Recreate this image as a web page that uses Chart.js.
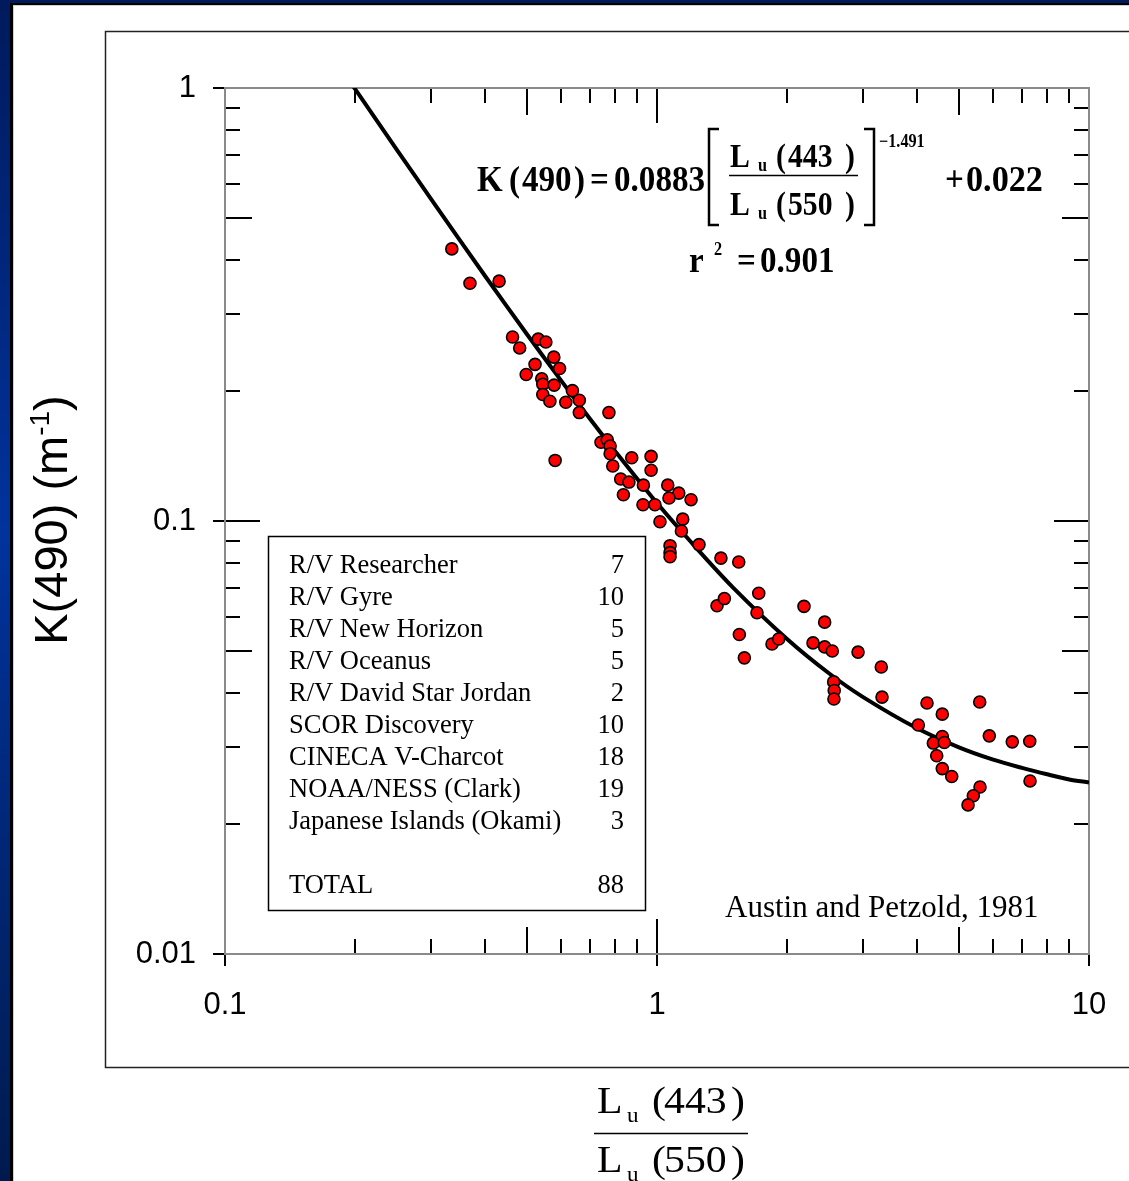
<!DOCTYPE html>
<html>
<head>
<title>K(490) vs Lu(443)/Lu(550)</title>
<script src="https://cdn.jsdelivr.net/npm/chart.js"></script>
<style>
  html, body { margin: 0; padding: 0; background: #001f6b; }
  #wrap { width: 1129px; height: 1181px; }
</style>
</head>
<body>
<div id="wrap"><canvas id="kChart" width="1129" height="1181"></canvas></div>
<script>
// measured stations: Lu(443)/Lu(550) ratio and K(490)
const ratioX = [0.335, 0.369, 0.431, 0.463, 0.531, 0.553, 0.481, 0.577, 0.522, 0.595,
                0.498, 0.541, 0.544, 0.578, 0.544, 0.637, 0.565, 0.661, 0.615, 0.774,
                0.661, 0.742, 0.767, 0.779, 0.779, 0.581, 0.790, 0.874, 0.969, 0.969,
                0.824, 0.861, 0.930, 0.836, 1.059, 1.123, 1.066, 1.199, 0.928, 0.989,
                1.147, 1.016, 1.139, 1.251, 1.072, 1.072, 1.072, 1.406, 1.546, 1.377,
                1.432, 1.720, 1.704, 1.551, 1.593, 1.846, 1.913, 2.189, 2.297, 2.444,
                2.444, 2.545, 2.920, 3.305, 2.564, 2.572, 2.568, 3.318, 4.217, 4.575,
                5.585, 4.026, 4.575, 4.362, 4.624, 5.878, 6.643, 7.292, 4.441, 4.575,
                4.811, 5.594, 5.398, 5.248, 7.303];
const k490 = [0.425, 0.354, 0.358, 0.266, 0.263, 0.259, 0.251, 0.239, 0.230, 0.225,
              0.218, 0.213, 0.207, 0.206, 0.196, 0.200, 0.189, 0.190, 0.188, 0.178,
              0.178, 0.152, 0.154, 0.149, 0.143, 0.138, 0.134, 0.140, 0.141, 0.131,
              0.125, 0.123, 0.121, 0.115, 0.121, 0.116, 0.113, 0.112, 0.109, 0.109,
              0.101, 0.0996, 0.0948, 0.0882, 0.0877, 0.0845, 0.0827, 0.0821, 0.0804, 0.0637,
              0.0662, 0.0681, 0.0614, 0.0547, 0.0483, 0.0520, 0.0534, 0.0635, 0.0523, 0.0584,
              0.0512, 0.0501, 0.0498, 0.0460, 0.0425, 0.0406, 0.0388, 0.0392, 0.0380, 0.0358,
              0.0382, 0.0338, 0.0318, 0.0307, 0.0308, 0.0319, 0.0309, 0.0310, 0.0287, 0.0268,
              0.0257, 0.0243, 0.0232, 0.0221, 0.0251];

// fitted curve
const curveX = [0.19, 0.2, 0.25, 0.3, 0.4, 0.5, 0.6, 0.7, 0.8, 1, 1.2, 1.5, 2, 2.5, 3, 4, 5, 6, 7, 8, 9, 10];
const curveK = [1.073, 0.995, 0.720, 0.554, 0.368, 0.270, 0.211, 0.172, 0.145, 0.110, 0.0893, 0.0702,
                0.0534, 0.0445, 0.0392, 0.0332, 0.0300, 0.0281, 0.0269, 0.0260, 0.0253, 0.0249];

const xTickValues = [0.1, 1, 10];
const yTickValues = [0.01, 0.1, 1];

const cruises = ["R/V Researcher", "R/V Gyre", "R/V New Horizon", "R/V Oceanus",
                 "R/V David Star Jordan", "SCOR Discovery", "CINECA V-Charcot",
                 "NOAA/NESS (Clark)", "Japanese Islands (Okami)"];
const cruiseCounts = [7, 10, 5, 5, 2, 10, 18, 19, 3];
const totalCount = 88;

const SERIF = "'Liberation Serif', 'Times New Roman', serif";
const SANS = "'Liberation Sans', Arial, sans-serif";

function put(ctx, s, x, y, font, align) {
    ctx.font = font;
    ctx.textAlign = align || "left";
    ctx.fillText(s, x, y);
}

// text squeezed or stretched horizontally
function putS(ctx, s, x, y, font, sx) {
    ctx.save();
    ctx.translate(x, y);
    ctx.scale(sx, 1);
    ctx.font = font;
    ctx.textAlign = "left";
    ctx.fillText(s, 0, 0);
    ctx.restore();
}

const decor = {
    id: "decor",
    beforeDraw(chart) {
        const ctx = chart.ctx, W = chart.width, H = chart.height;
        ctx.save();
        const g = ctx.createLinearGradient(0, 0, 0, H);
        g.addColorStop(0, "#001a5c");
        g.addColorStop(0.45, "#00339c");
        g.addColorStop(1, "#001a4e");
        ctx.fillStyle = g;
        ctx.fillRect(0, 0, W, H);
        ctx.fillStyle = "#000";
        ctx.fillRect(10, 3, W, H);
        ctx.fillStyle = "#d0d0d0";
        ctx.fillRect(13, 5, W, H);
        ctx.fillStyle = "#fff";
        ctx.fillRect(14, 6, W, H);
        // outer frame, open on the right
        ctx.strokeStyle = "#222";
        ctx.lineWidth = 1.5;
        ctx.beginPath();
        ctx.moveTo(W, 31.5);
        ctx.lineTo(105.5, 31.5);
        ctx.lineTo(105.5, 1067.5);
        ctx.lineTo(W, 1067.5);
        ctx.stroke();
        ctx.restore();
    },
    beforeDatasetsDraw(chart) {
        const ctx = chart.ctx, a = chart.chartArea, x = chart.scales.x, y = chart.scales.y;
        const len = m => (m === 1 ? 35 : (m === 5 ? 27 : 15));
        ctx.save();
        ctx.strokeStyle = "#000";
        ctx.lineWidth = 2;
        ctx.beginPath();
        [0.1, 1].forEach(dec => {
            for (let m = 1; m <= 9; m++) {
                const px = Math.round(x.getPixelForValue(dec * m));
                const l = len(m);
                ctx.moveTo(px, a.bottom + (m === 1 ? 12 : 0));
                ctx.lineTo(px, a.bottom - l);
                ctx.moveTo(px, a.top);
                ctx.lineTo(px, a.top + l);
            }
        });
        [0.01, 0.1].forEach(dec => {
            for (let m = 1; m <= 9; m++) {
                const py = Math.round(y.getPixelForValue(dec * m));
                const l = len(m);
                ctx.moveTo(a.left - (m === 1 ? 12 : 0), py);
                ctx.lineTo(a.left + l, py);
                ctx.moveTo(a.right, py);
                ctx.lineTo(a.right - l, py);
            }
        });
        // last majors
        const px10 = Math.round(x.getPixelForValue(10));
        ctx.moveTo(px10, a.bottom + 12);
        ctx.lineTo(px10, a.bottom);
        const py1 = Math.round(y.getPixelForValue(1));
        ctx.moveTo(a.left - 12, py1);
        ctx.lineTo(a.left, py1);
        ctx.stroke();
        ctx.strokeStyle = "#8a8a8a";
        ctx.lineWidth = 2;
        ctx.strokeRect(a.left, a.top, a.right - a.left, a.bottom - a.top);
        ctx.restore();
    },
    afterDraw(chart) {
        const ctx = chart.ctx;
        ctx.save();
        ctx.fillStyle = "#000";
        ctx.strokeStyle = "#000";
        ctx.textBaseline = "alphabetic";

        // equation
        const B = "bold 36px " + SERIF, Bs = "bold 18px " + SERIF, Bf = "bold 33px " + SERIF;
        const q = 0.92;
        putS(ctx, "K", 477, 191, B, q);
        putS(ctx, "(", 509, 191, B, q);
        putS(ctx, "490", 522, 191, B, q);
        putS(ctx, ")", 574, 191, B, q);
        putS(ctx, "=", 590, 191, B, q);
        putS(ctx, "0.0883", 614, 191, B, q);
        ctx.lineWidth = 2.5;
        ctx.beginPath();
        ctx.moveTo(719, 129); ctx.lineTo(709, 129); ctx.lineTo(709, 225); ctx.lineTo(719, 225);
        ctx.moveTo(864, 129); ctx.lineTo(874, 129); ctx.lineTo(874, 225); ctx.lineTo(864, 225);
        ctx.stroke();
        putS(ctx, "L", 730, 167, Bf, 0.9);
        putS(ctx, "u", 758, 171, Bs, 0.9);
        putS(ctx, "(", 776, 167, Bf, 0.9);
        putS(ctx, "443", 788, 167, Bf, 0.9);
        putS(ctx, ")", 845, 167, Bf, 0.9);
        ctx.lineWidth = 1.5;
        ctx.beginPath();
        ctx.moveTo(729, 175.5); ctx.lineTo(858, 175.5);
        ctx.stroke();
        putS(ctx, "L", 730, 215, Bf, 0.9);
        putS(ctx, "u", 758, 219, Bs, 0.9);
        putS(ctx, "(", 776, 215, Bf, 0.9);
        putS(ctx, "550", 788, 215, Bf, 0.9);
        putS(ctx, ")", 845, 215, Bf, 0.9);
        putS(ctx, "\u22121.491", 879, 147, Bs, 0.9);
        putS(ctx, "+", 945, 191, B, q);
        putS(ctx, "0.022", 966, 191, B, 0.95);
        putS(ctx, "r", 689, 272, B, q);
        putS(ctx, "2", 714, 255, Bs, 0.9);
        putS(ctx, "=", 737, 272, B, q);
        putS(ctx, "0.901", 760, 272, B, q);

        // station table
        ctx.lineWidth = 1.5;
        ctx.strokeRect(268.5, 536.5, 377, 374);
        const F = "26.5px " + SERIF;
        cruises.forEach((c, i) => {
            const by = 573 + i * 32;
            put(ctx, c, 289, by, F);
            put(ctx, String(cruiseCounts[i]), 624, by, F, "right");
        });
        put(ctx, "TOTAL", 289, 893, F);
        put(ctx, String(totalCount), 624, 893, F, "right");

        put(ctx, "Austin and Petzold, 1981", 725, 917, "31px " + SERIF);

        // y axis title
        ctx.save();
        ctx.translate(67, 520);
        ctx.rotate(-Math.PI / 2);
        const big = "47px " + SANS, sup = "28px " + SANS;
        ctx.font = big;
        const w1 = ctx.measureText("K(490) (m").width, w3 = ctx.measureText(")").width;
        ctx.font = sup;
        const w2 = ctx.measureText("-1").width;
        let sx = -(w1 + w2 + w3) / 2;
        put(ctx, "K(490) (m", sx, 0, big);
        put(ctx, "-1", sx + w1, -18, sup);
        put(ctx, ")", sx + w1 + w2, 0, big);
        ctx.restore();

        // x axis title
        const R = "38px " + SERIF, Rs = "21px " + SERIF, w = 1.1;
        putS(ctx, "L", 597, 1113, R, w);
        putS(ctx, "u", 627, 1122, Rs, w);
        putS(ctx, "(", 652, 1113, R, w);
        putS(ctx, "443", 664, 1113, R, w);
        putS(ctx, ")", 731, 1113, R, w);
        ctx.lineWidth = 1.5;
        ctx.beginPath();
        ctx.moveTo(594, 1133.5); ctx.lineTo(748, 1133.5);
        ctx.stroke();
        putS(ctx, "L", 597, 1172, R, w);
        putS(ctx, "u", 627, 1181, Rs, w);
        putS(ctx, "(", 652, 1172, R, w);
        putS(ctx, "550", 664, 1172, R, w);
        putS(ctx, ")", 731, 1172, R, w);
        ctx.restore();
    }
};

const points = ratioX.map((v, i) => ({ x: v, y: k490[i] }));
const curve = curveX.map((v, i) => ({ x: v, y: curveK[i] }));

const ctx = document.getElementById("kChart").getContext("2d");
const chart = new Chart(ctx, {
    type: "scatter",
    data: {
        datasets: [{
            label: "Stations",
            data: points,
            backgroundColor: "#ff0000",
            borderColor: "#000",
            borderWidth: 1.6,
            pointRadius: 6,
            pointHoverRadius: 6
        }, {
            type: "line",
            label: "Fit",
            data: curve,
            borderColor: "#000",
            borderWidth: 4,
            pointRadius: 0,
            tension: 0.3,
            fill: false
        }]
    },
    options: {
        responsive: false,
        animation: false,
        events: [],
        layout: { padding: { left: 0, top: 88, right: 40, bottom: 0 } },
        plugins: { legend: { display: false }, tooltip: { enabled: false } },
        scales: {
            x: {
                type: "logarithmic",
                min: 0.1,
                max: 10,
                afterBuildTicks: s => { s.ticks = xTickValues.map(v => ({ value: v })); },
                afterFit: s => { s.height = 227; s.paddingLeft = 0; s.paddingRight = 0; },
                ticks: {
                    callback: v => String(v),
                    font: { family: SANS, size: 31 },
                    color: "#000",
                    padding: 33,
                    maxRotation: 0,
                    autoSkip: false
                },
                grid: { display: false, drawTicks: false },
                border: { display: false }
            },
            y: {
                type: "logarithmic",
                min: 0.01,
                max: 1,
                afterBuildTicks: s => { s.ticks = yTickValues.map(v => ({ value: v })); },
                afterFit: s => { s.width = 225; s.paddingTop = 0; s.paddingBottom = 0; },
                ticks: {
                    callback: v => String(v),
                    font: { family: SANS, size: 31 },
                    color: "#000",
                    padding: 29,
                    autoSkip: false
                },
                grid: { display: false, drawTicks: false },
                border: { display: false }
            }
        }
    },
    plugins: [decor]
});
</script>
</body>
</html>
